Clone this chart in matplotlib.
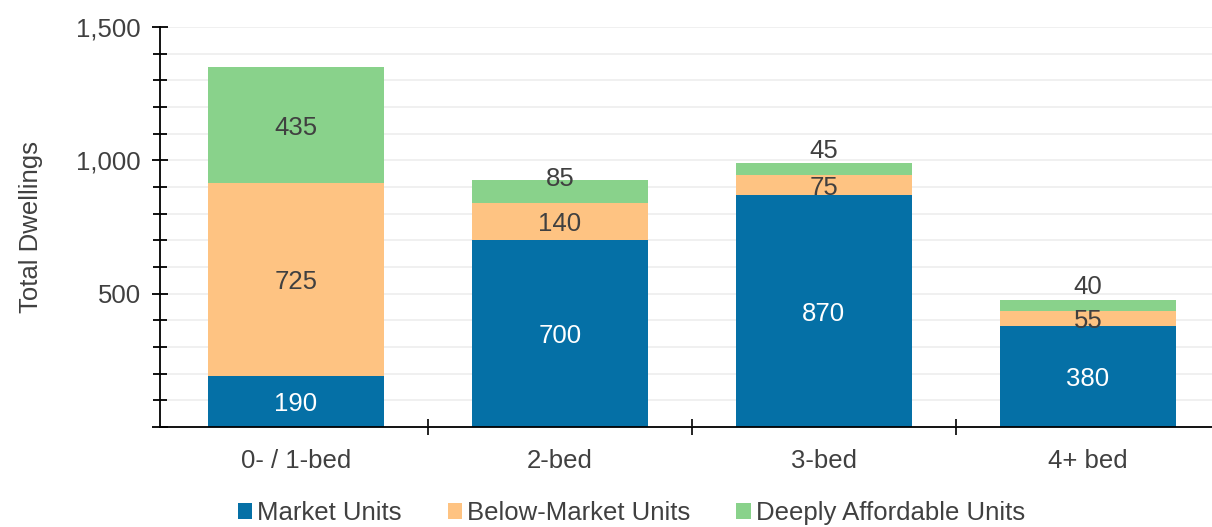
import numpy as np
import matplotlib.pyplot as plt
from matplotlib.ticker import MultipleLocator, FuncFormatter

plt.rcParams['font.family'] = ['Liberation Sans', 'DejaVu Sans']

# dwelling counts by bedroom type
categories = ['0- / 1-bed', '2-bed', '3-bed', '4+ bed']
market = [190, 700, 870, 380]
below_market = [725, 140, 75, 55]
deeply_affordable = [435, 85, 45, 40]

series = [
    ('Market Units', market, '#0570a6', 'white'),
    ('Below-Market Units', below_market, '#fec382', '#404040'),
    ('Deeply Affordable Units', deeply_affordable, '#89d28b', '#404040'),
]

# label nudges (points) for segments too thin to hold their number
nudge = {
    ('Deeply Affordable Units', 1): 11,
    ('Deeply Affordable Units', 2): 15,
    ('Deeply Affordable Units', 3): 15.5,
}

FS = 18.5
TXT = '#404040'

fig = plt.figure(figsize=(12.12, 5.27), dpi=100)
ax = fig.add_axes([160 / 1212, 1 - 427 / 527, 1 - 160 / 1212, 400 / 527])

x = np.arange(len(categories))
bottom = np.zeros(len(categories))
for name, vals, color, tcolor in series:
    vals = np.array(vals)
    ax.bar(x, vals, 0.667, bottom=bottom, color=color, label=name, zorder=2)
    for i, v in enumerate(vals):
        dy = nudge.get((name, i), 0) - 2
        ax.annotate(str(v), (x[i], bottom[i] + v / 2), xytext=(0, dy),
                    textcoords='offset points', ha='center', va='center',
                    fontsize=FS, color=tcolor, zorder=3)
    bottom += vals

ax.set_xlim(-0.515, 3.47)
ax.set_ylim(0, 1500)
ax.yaxis.set_major_locator(MultipleLocator(500))
ax.yaxis.set_minor_locator(MultipleLocator(100))
ax.yaxis.set_major_formatter(FuncFormatter(lambda v, p: '' if v == 0 else f'{int(v):,}'))
ax.grid(axis='y', which='both', color='#eeeeee', linewidth=1.2, zorder=0)

ax.set_xticks(x)
ax.set_xticklabels(categories)
ax.set_xticks(x[:-1] + 0.5, minor=True)
ax.tick_params(axis='x', which='major', length=0, pad=16, labelsize=FS, labelcolor=TXT)
ax.tick_params(axis='x', which='minor', length=12, direction='inout', color='black', width=1.2)
ax.tick_params(axis='y', which='major', direction='inout', length=12, width=1.3,
               labelsize=FS, labelcolor=TXT, pad=8)
ax.tick_params(axis='y', which='minor', direction='inout', length=10, width=1.3)

for s in ['top', 'right']:
    ax.spines[s].set_visible(False)
ax.spines['left'].set_linewidth(1.3)
ax.spines['bottom'].set_linewidth(1.3)

ax.set_ylabel('Total Dwellings', fontsize=FS, color=TXT, labelpad=24)

ax.legend(loc='center', bbox_to_anchor=(0.448, -0.215), ncol=3, frameon=False,
          fontsize=FS, labelcolor=TXT, handlelength=0.55, handleheight=0.55,
          handletextpad=0.2, columnspacing=1.8)

fig.savefig('out.png', dpi=100)
